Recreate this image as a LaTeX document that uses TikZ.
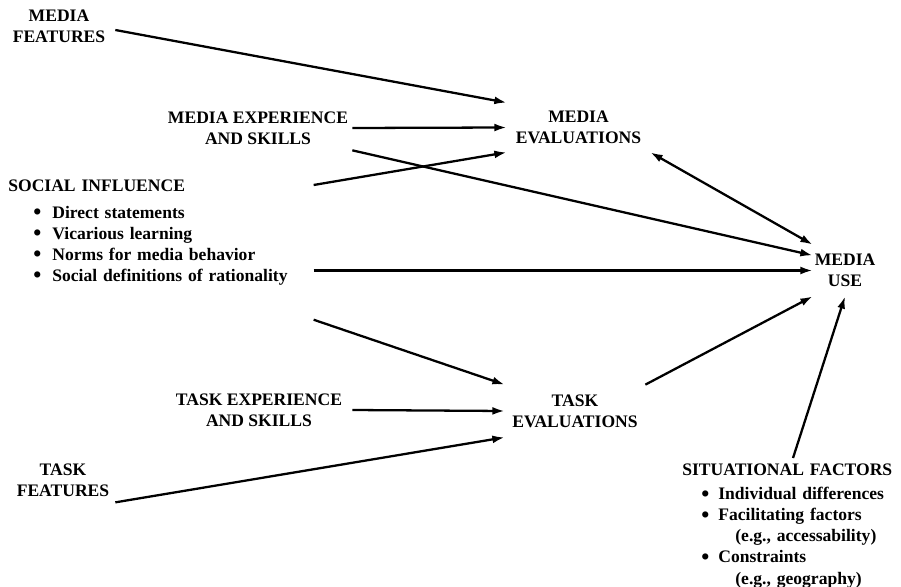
\documentclass[tikz,border=0pt]{standalone}
\usepackage{fontspec}
\setmainfont{Liberation Serif}
\usepackage{tikz}
\usetikzlibrary{arrows.meta, calc}

\newcommand{\bigdot}{\raisebox{-0.8pt}{\fontsize{13}{12}\selectfont\textbullet}}
\newcommand{\blt}[1]{\hspace*{0.50cm}\makebox[0.38cm][l]{\bigdot}#1}
\newcommand{\sblt}[1]{\hspace*{0.38cm}\makebox[0.34cm][l]{\bigdot}#1}

\begin{document}
\begin{tikzpicture}[x=0.02cm, y=-0.02cm, >={Latex[length=7pt, width=4.5pt]},
    lbl/.style={font=\bfseries\fontsize{10}{12}\selectfont, align=center, inner sep=0pt},
    link/.style={->, line width=1.3pt}]
    \useasboundingbox (0,0) rectangle (901,587);
    % evaluations and use
    \node[lbl, minimum width=2.86cm, minimum height=0.98cm] (meval) at (578.5,127.5) {MEDIA\\ EVALUATIONS};
    \node[lbl, minimum width=2.8cm, minimum height=1.04cm] (teval) at (575,411) {TASK\\ EVALUATIONS};
    \node[lbl, minimum width=1.28cm, minimum height=1.02cm] (muse) at (845,270.5) {MEDIA\\ USE};
    % sources
    \node[lbl, minimum width=2.24cm, minimum height=0.9cm] (mfeat) at (59,26) {MEDIA\\ FEATURES};
    \node[lbl, minimum width=3.76cm, minimum height=0.88cm] (mexp) at (258,128) {MEDIA EXPERIENCE\\ AND SKILLS};
    \node[lbl, minimum width=3.72cm, minimum height=0.88cm] (texp) at (259,410) {TASK EXPERIENCE\\ AND SKILLS};
    \node[lbl, minimum width=2.08cm, minimum height=0.88cm] (tfeat) at (63,480) {TASK\\ FEATURES};
    \node[lbl, anchor=north west, text width=6.1cm, align=left] (social) at (8,180)
    {SOCIAL INFLUENCE\\[3pt]
     \blt{Direct statements}\\
     \blt{Vicarious learning}\\
     \blt{Norms for media behavior}\\
     \blt{Social definitions of rationality}};
    \node[lbl, anchor=north west, text width=4.3cm, align=left] (situ) at (682,464)
    {SITUATIONAL FACTORS\\[1.5pt]
     \sblt{Individual differences}\\
     \sblt{Facilitating factors}\\
     \hspace*{1.06cm}(e.g., accessability)\\
     \sblt{Constraints}\\
     \hspace*{1.06cm}(e.g., geography)};
    % arrows
    \draw[link] ($(mfeat.east)+(0,4)$) -- (meval.north west);
    \draw[link] (mexp.east) -- (meval.west);
    \draw[link] ($(social.north east)+(0,5)$) -- (meval.south west);
    \draw[link] (mexp.south east) -- (muse.155);
    \draw[link, <->] (meval.south east) -- (muse.north west);
    \draw[link] (social.east |- muse.west) -- (muse.west);
    \draw[link] ($(social.south east)+(0,34)$) -- (teval.north west);
    \draw[link] (texp.east) -- (teval.west);
    \draw[link] (tfeat.south east) -- (teval.south west);
    \draw[link] (teval.north east) -- (muse.south west);
    \draw[link] ($(situ.north west)+(111,-6)$) -- (muse.south);
\end{tikzpicture}
\end{document}
